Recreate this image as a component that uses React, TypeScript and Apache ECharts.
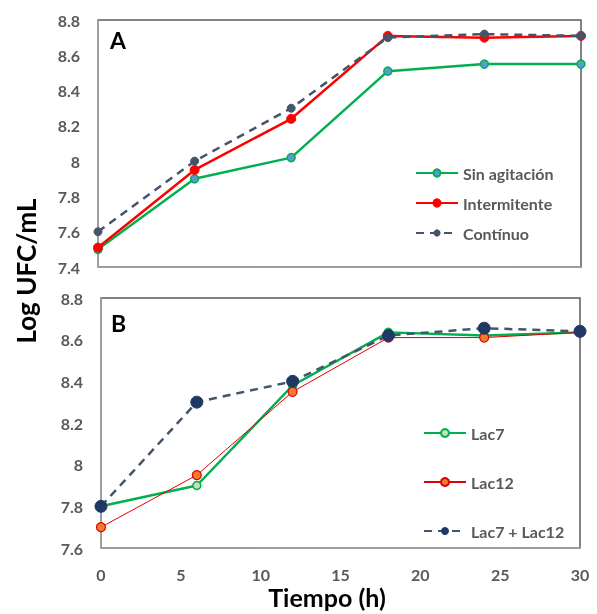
import React, { useEffect, useRef } from "react";
import * as echarts from "echarts";

const hours = [0, 6, 12, 18, 24, 30];
const xTicks = [0, 5, 10, 15, 20, 25, 30];

// Panel A
const sinAgitacion = [7.5, 7.9, 8.02, 8.51, 8.55, 8.55];
const intermitente = [7.51, 7.95, 8.24, 8.71, 8.7, 8.71];
const continuo = [7.6, 8.0, 8.3, 8.7, 8.72, 8.71];

// Panel B
const lac7 = [7.8, 7.9, 8.38, 8.635, 8.62, 8.635];
const lac12 = [7.7, 7.95, 8.35, 8.61, 8.61, 8.635];
const lac7lac12 = [7.8, 8.3, 8.4, 8.62, 8.655, 8.64];

const pairs = (ys: number[]) => hours.map((h, i) => [h, ys[i]]);

const FONT = "Lato, 'Open Sans', sans-serif";
const GRAY = "#595959";

export default function App() {
  const ref = useRef<HTMLDivElement>(null);
  useEffect(() => {
    if (!ref.current) return;
    const chart = echarts.init(ref.current, undefined, { renderer: "svg" });
    const yLabel = { color: GRAY, fontSize: 16, fontWeight: "bold" as const, fontFamily: FONT, margin: 18 };
    const xAxisBase = {
      type: "value" as const,
      min: xTicks[0],
      max: xTicks[xTicks.length - 1],
      interval: 5,
      splitLine: { show: false },
      axisTick: { show: false },
      axisLine: { show: true, lineStyle: { color: "#a6a6a6", width: 1.5 } },
    };
    const yAxisBase = {
      type: "value" as const,
      interval: 0.2,
      splitLine: { show: false },
      axisTick: { show: false },
      axisLine: { show: true, lineStyle: { color: "#a6a6a6", width: 1.5 } },
      axisLabel: yLabel,
    };
    const legendText = { color: GRAY, fontSize: 16, fontWeight: "bold" as const, fontFamily: FONT };
    chart.setOption({
      animation: false,
      textStyle: { fontFamily: FONT },
      grid: [
        { left: 98, right: 16, top: 20, height: 247, show: true, borderColor: "#595959", borderWidth: 1.5, backgroundColor: "transparent" },
        { left: 101, right: 17, top: 298, height: 250, show: true, borderColor: "#595959", borderWidth: 1.5, backgroundColor: "transparent" },
      ],
      xAxis: [
        { ...xAxisBase, gridIndex: 0, axisLabel: { show: false } },
        {
          ...xAxisBase,
          gridIndex: 1,
          axisLabel: { color: GRAY, fontSize: 16, fontWeight: "bold", fontFamily: FONT, margin: 18 },
        },
      ],
      yAxis: [
        { ...yAxisBase, gridIndex: 0, min: 7.4, max: 8.8 },
        { ...yAxisBase, gridIndex: 1, min: 7.6, max: 8.8 },
      ],
      legend: [
        {
          data: ["Sin agitación", "Intermitente", "Contínuo"],
          orient: "vertical",
          left: 410,
          top: 160,
          itemWidth: 42,
          itemHeight: 9,
          itemGap: 14,
          textStyle: legendText,
        },
        {
          data: ["Lac7", "Lac12", "Lac7 + Lac12"],
          orient: "vertical",
          left: 418,
          top: 420,
          itemWidth: 42,
          itemHeight: 10,
          itemGap: 33,
          textStyle: legendText,
        },
      ],
      series: [
        {
          name: "Sin agitación",
          type: "line",
          xAxisIndex: 0,
          yAxisIndex: 0,
          data: pairs(sinAgitacion),
          symbol: "circle",
          symbolSize: 8,
          lineStyle: { color: "#00b050", width: 2.5 },
          itemStyle: { color: "#5b9bd5", borderColor: "#00b050", borderWidth: 1.5 },
          z: 2,
        },
        {
          name: "Intermitente",
          type: "line",
          xAxisIndex: 0,
          yAxisIndex: 0,
          data: pairs(intermitente),
          symbol: "circle",
          symbolSize: 9,
          lineStyle: { color: "#ff0000", width: 2.5 },
          itemStyle: { color: "#ff0000", borderColor: "#ff0000", borderWidth: 1 },
          z: 3,
        },
        {
          name: "Contínuo",
          type: "line",
          xAxisIndex: 0,
          yAxisIndex: 0,
          data: pairs(continuo),
          symbol: "circle",
          symbolSize: 8,
          lineStyle: { color: "#44546a", width: 2.5, type: [8, 6] },
          itemStyle: { color: "#44546a", borderColor: "#44546a" },
          z: 4,
        },
        {
          name: "Lac7",
          type: "line",
          xAxisIndex: 1,
          yAxisIndex: 1,
          data: pairs(lac7),
          symbol: "circle",
          symbolSize: 8,
          lineStyle: { color: "#00b050", width: 2.5 },
          itemStyle: { color: "#c5e0b4", borderColor: "#00b050", borderWidth: 1.5 },
          z: 2,
        },
        {
          name: "Lac12",
          type: "line",
          xAxisIndex: 1,
          yAxisIndex: 1,
          data: pairs(lac12),
          symbol: "circle",
          symbolSize: 9,
          lineStyle: { color: "#e00000", width: 1 },
          itemStyle: { color: "#ed7d31", borderColor: "#e00000", borderWidth: 1.2 },
          z: 3,
        },
        {
          name: "Lac7 + Lac12",
          type: "line",
          xAxisIndex: 1,
          yAxisIndex: 1,
          data: pairs(lac7lac12),
          symbol: "circle",
          symbolSize: 12,
          lineStyle: { color: "#44546a", width: 2.5, type: [8, 6] },
          itemStyle: { color: "#203864", borderColor: "#203864" },
          z: 4,
        },
      ],
      graphic: [
        { type: "text", left: 110, top: 28, style: { text: "A", font: `bold 23px ${FONT}`, fill: "#000" } },
        { type: "text", left: 111, top: 311, style: { text: "B", font: `bold 23px ${FONT}`, fill: "#000" } },
        {
          type: "text",
          x: 26,
          y: 271,
          rotation: Math.PI / 2,
          style: { text: "Log UFC/mL", font: `bold 26px ${FONT}`, fill: "#000", align: "center", verticalAlign: "middle" },
        },
        {
          type: "text",
          x: 327,
          y: 597,
          style: { text: "Tiempo (h)", font: `bold 25px ${FONT}`, fill: "#000", align: "center", verticalAlign: "middle" },
        },
      ],
    });
    return () => chart.dispose();
  }, []);
  return <div ref={ref} style={{ position: "fixed", left: 0, top: 0, width: 597, height: 614 }} />;
}
